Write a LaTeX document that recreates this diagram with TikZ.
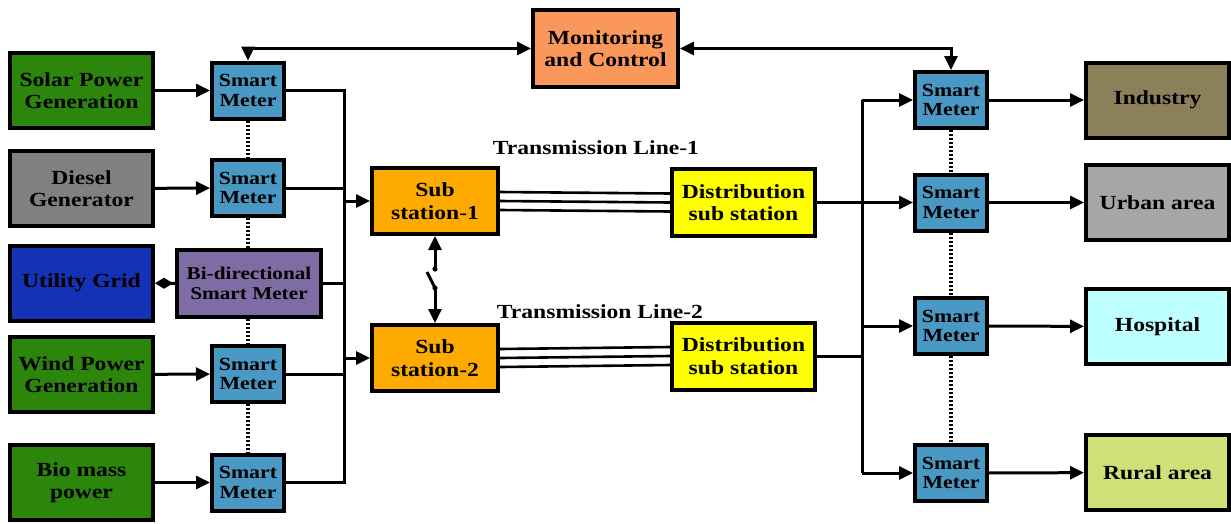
\documentclass[tikz,border=0pt]{standalone}
\usepackage{fontspec}
\setmainfont{Liberation Serif}[FakeStretch=1.18]
\usetikzlibrary{arrows.meta}

\definecolor{solarG}{RGB}{44,134,12}
\definecolor{dieselG}{RGB}{128,128,128}
\definecolor{gridB}{RGB}{22,50,180}
\definecolor{meterB}{RGB}{74,152,196}
\definecolor{bidirP}{RGB}{128,108,165}
\definecolor{monO}{RGB}{250,152,92}
\definecolor{subO}{RGB}{255,170,0}
\definecolor{distY}{RGB}{255,255,0}
\definecolor{indB}{RGB}{140,128,90}
\definecolor{urbG}{RGB}{166,166,166}
\definecolor{hospC}{RGB}{190,255,255}
\definecolor{rurG}{RGB}{205,225,120}

\tikzset{
  blk/.style={draw=black, line width=4pt, align=center, inner sep=1pt,
    font=\fontsize{20}{22.5}\selectfont\bfseries},
  srcbox/.style={blk, minimum width=143pt, minimum height=75pt},
  meter/.style={blk, fill=meterB, minimum width=72pt, minimum height=56pt,
    font=\fontsize{18.5}{19.5}\selectfont\bfseries},
  subbox/.style={blk, fill=subO, minimum width=126pt, minimum height=66pt},
  distbox/.style={blk, fill=distY, minimum width=143pt, minimum height=67pt},
  wire/.style={line width=3pt},
  arr/.style={wire, -{Triangle[length=14pt,width=13pt]}},
  arrboth/.style={wire, {Triangle[length=14pt,width=13pt]}-{Triangle[length=14pt,width=13pt]}},
  dots/.style={line width=3.5pt, dash pattern=on 2pt off 2pt},
  tlabel/.style={font=\fontsize{20}{22}\selectfont\bfseries}
}

\begin{document}
\begin{tikzpicture}[x=1pt, y=-1pt]
\useasboundingbox (0,0) rectangle (1231,523);

% generation sources
\node[srcbox, fill=solarG]  (solar)  at (81.5,90.5)  {Solar Power\\Generation};
\node[srcbox, fill=dieselG] (diesel) at (81.5,188.5) {Diesel\\Generator};
\node[srcbox, fill=gridB]   (grid)   at (81.5,283)   {Utility Grid};
\node[srcbox, fill=solarG]  (wind)   at (81.5,374.5) {Wind Power\\Generation};
\node[srcbox, fill=solarG]  (bio)    at (81.5,482.5) {Bio mass\\power};

% source-side meters
\node[meter] (sm1) at (248,90.5)  {Smart\\Meter};
\node[meter] (sm2) at (248,188)   {Smart\\Meter};
\node[blk, fill=bidirP, minimum width=144pt, minimum height=67pt,
      font=\fontsize{18}{19.5}\selectfont\bfseries] (bidir) at (249,283.5) {Bi-directional\\Smart Meter};
\node[meter] (smw) at (248,374)   {Smart\\Meter};
\node[meter] (smb) at (248,482.5) {Smart\\Meter};

% monitoring
\node[blk, fill=monO, minimum width=145pt, minimum height=77pt] (mon) at (605.5,48.5) {Monitoring\\and Control};

% substations
\node[subbox] (sub1) at (435,201) {Sub\\station-1};
\node[subbox] (sub2) at (435,358) {Sub\\station-2};
\node[distbox] (dist1) at (743.5,202.5) {Distribution\\sub station};
\node[distbox] (dist2) at (743.5,356)   {Distribution\\sub station};

\node[tlabel] (tl1) at (596,148) {Transmission Line-1};
\node[tlabel] (tl2) at (600,312) {Transmission Line-2};

% load-side meters
\node[meter] (smr1) at (951,100)   {Smart\\Meter};
\node[meter] (smr2) at (951,202.5) {Smart\\Meter};
\node[meter] (smr3) at (951,326)   {Smart\\Meter};
\node[meter] (smr4) at (951,473)   {Smart\\Meter};

% loads
\node[srcbox, fill=indB]  (ind)   at (1157.5,100)   {Industry};
\node[srcbox, fill=urbG]  (urban) at (1157.5,202.5) {Urban area};
\node[srcbox, fill=hospC] (hosp)  at (1157.5,326.5) {Hospital};
\node[srcbox, fill=rurG]  (rural) at (1157.5,472.5) {Rural area};

% source to meter
\draw[arr] (solar) -- (sm1);
\draw[arr] (diesel) -- (sm2);
\draw[wire, {Diamond[length=18pt,width=11pt]}-] (grid) -- (bidir);
\draw[arr] (wind) -- (smw);
\draw[arr] (bio) -- (smb);

% dotted meter chain (left)
\draw[dots] (sm1.south) -- (sm2.north);
\draw[dots] (sm2.south) -- (sm2.south |- bidir.north);
\draw[dots] (sm2.south |- bidir.south) -- (smw.north);
\draw[dots] (smw.south) -- (smb.north);

% left bus
\coordinate (busT) at (344,90.5);
\coordinate (busB) at (344,482.5);
\draw[wire] (sm1) -- (busT) -- (busB) -- (smb);
\draw[wire] (sm2) -- (sm2 -| busT);
\draw[wire] (bidir) -- (bidir -| busT);
\draw[wire] (smw) -- (smw -| busT);
\draw[arr] (sub1 -| busT) -- (sub1);
\draw[arr] (sub2 -| busT) -- (sub2);

% monitoring links
\draw[arrboth] (sm1.north) |- (mon.west);
\draw[arrboth] (mon.east) -| (smr1.north);

% transmission lines
\foreach \d in {-9,0,9}{
  \draw[wire, line width=2.6pt] ([yshift=\d pt]sub1.east) -- ([yshift=\d pt]dist1.west);
  \draw[wire, line width=2.6pt] ([yshift=\d pt]sub2.east) -- ([yshift=\d pt]dist2.west);
}

% tie switch between substations
\coordinate (swA) at (435,269);
\coordinate (swB) at (435,288);
\coordinate (swL) at (427,272);
\draw[arr] (swA) -- (sub1.south);
\draw[wire] (swL) -- (swB);
\draw[arr] (swB) -- (sub2.north);
\fill (swA) circle (2.6pt);
\fill (swB) circle (2.6pt);

% right bus
\coordinate (rbT) at (862,100);
\coordinate (rbB) at (862,473);
\draw[arr] (dist1) -- (smr2);
\draw[wire] (dist2) -- (dist2 -| rbT);
\draw[wire] (rbT) -- (rbB);
\draw[arr] (rbT) -- (smr1);
\draw[arr] (smr3 -| rbT) -- (smr3);
\draw[arr] (rbB) -- (smr4);

% dotted meter chain (right)
\draw[dots] (smr1.south) -- (smr2.north);
\draw[dots] (smr2.south) -- (smr3.north);
\draw[dots] (smr3.south) -- (smr4.north);

% meter to load
\draw[arr] (smr1) -- (ind);
\draw[arr] (smr2) -- (urban);
\draw[arr] (smr3) -- (hosp);
\draw[arr] (smr4) -- (rural);
\end{tikzpicture}
\end{document}
